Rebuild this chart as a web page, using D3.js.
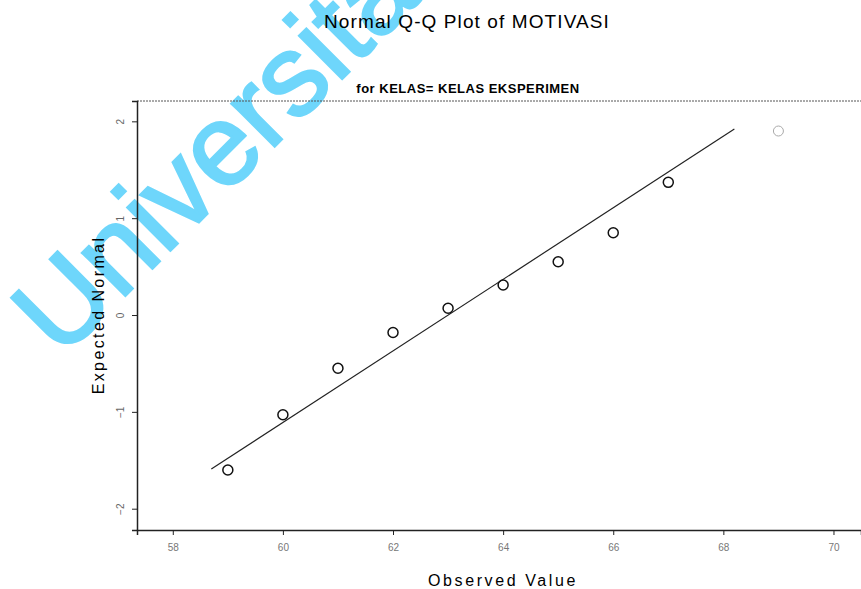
<!DOCTYPE html>
<html>
<head>
<meta charset="utf-8">
<script src="https://d3js.org/d3.v7.min.js"></script>
<style>
  body { margin: 0; background: #fff; }
  svg { font-family: "Liberation Sans", Arial, sans-serif; }
</style>
<title>Normal Q-Q Plot of MOTIVASI</title>
</head>
<body>
<svg width="861" height="589"></svg>
<script>
// observed values and their expected normal quantiles
const observed = [59, 60, 61, 62, 63, 64, 65, 66, 67, 69];
const expected = [-1.6, -1.03, -0.55, -0.18, 0.07, 0.31, 0.55, 0.85, 1.37, 1.9];
// reference line end points
const lineX = [58.7, 68.2];
const lineY = [-1.59, 1.92];
const xTicks = [58, 60, 62, 64, 66, 68, 70];
const yTicks = [-2, -1, 0, 1, 2];

const svg = d3.select("svg");
const plotL = 137, plotT = 101, plotB = 530, plotR = 861;

const x = d3.scaleLinear().domain([57.35, 70.5]).range([plotL, plotR]);
const y = d3.scaleLinear().domain([-2.22, 2.21]).range([plotB, plotT]);

// watermark goes underneath everything
svg.append("text")
  .attr("transform", "translate(61,360) rotate(-45)")
  .attr("font-size", "115px")
  .attr("fill", "#6ed6fb")
  .attr("stroke", "#6ed6fb")
  .attr("stroke-width", 2.5)
  .text("Universitas");

// titles
svg.append("text")
  .attr("x", 467).attr("y", 28)
  .attr("text-anchor", "middle")
  .attr("font-size", "19px")
  .attr("letter-spacing", "1.1px")
  .text("Normal Q-Q Plot of MOTIVASI");

svg.append("text")
  .attr("x", 468).attr("y", 93)
  .attr("text-anchor", "middle")
  .attr("font-size", "13px")
  .attr("font-weight", "bold")
  .attr("letter-spacing", "0.5px")
  .text("for KELAS= KELAS EKSPERIMEN");

// frame top
svg.append("line")
  .attr("x1", plotL).attr("x2", plotR).attr("y1", plotT).attr("y2", plotT)
  .attr("stroke", "#555").attr("stroke-width", 1).attr("stroke-dasharray", "2,1");

// axes
const gx = svg.append("g")
  .attr("transform", "translate(0," + plotB + ")")
  .call(d3.axisBottom(x).tickValues(xTicks).tickSize(5).tickFormat(d3.format("d")));
gx.select(".domain").attr("stroke", "#222").attr("stroke-width", 1.5);
gx.selectAll(".tick line").attr("stroke", "#222");
gx.selectAll(".tick text")
  .attr("font-size", "10px").attr("fill", "#777").attr("dy", "1.3em");

const gy = svg.append("g")
  .attr("transform", "translate(" + plotL + ",0)")
  .call(d3.axisLeft(y).tickValues(yTicks).tickSize(5).tickFormat(d3.format("d")));
gy.select(".domain").attr("stroke", "#222").attr("stroke-width", 1.5);
gy.selectAll(".tick line").attr("stroke", "#222");
gy.selectAll(".tick text")
  .attr("font-size", "10px").attr("fill", "#666")
  .attr("x", 0).attr("dy", 0)
  .attr("text-anchor", "middle")
  .attr("transform", "translate(-13,0) rotate(-90)");

// axis labels
svg.append("text")
  .attr("transform", "translate(104,315) rotate(-90)")
  .attr("text-anchor", "middle")
  .attr("font-size", "16px")
  .attr("letter-spacing", "2.4px")
  .text("Expected Normal");

svg.append("text")
  .attr("x", 503).attr("y", 586)
  .attr("text-anchor", "middle")
  .attr("font-size", "16px")
  .attr("letter-spacing", "2.6px")
  .text("Observed Value");

// reference line
svg.append("line")
  .attr("x1", x(lineX[0])).attr("y1", y(lineY[0]))
  .attr("x2", x(lineX[1])).attr("y2", y(lineY[1]))
  .attr("stroke", "#222").attr("stroke-width", 1.2);

// points
const pts = observed.map((d, i) => ({ o: d, e: expected[i] }));
svg.selectAll("circle.pt")
  .data(pts)
  .enter().append("circle")
  .attr("class", "pt")
  .attr("cx", d => x(d.o))
  .attr("cy", d => y(d.e))
  .attr("r", 5)
  .attr("fill", "none")
  .attr("stroke", (d, i) => i === pts.length - 1 ? "#aaa" : "#111")
  .attr("stroke-width", (d, i) => i === pts.length - 1 ? 1 : 1.5);
</script>
</body>
</html>
